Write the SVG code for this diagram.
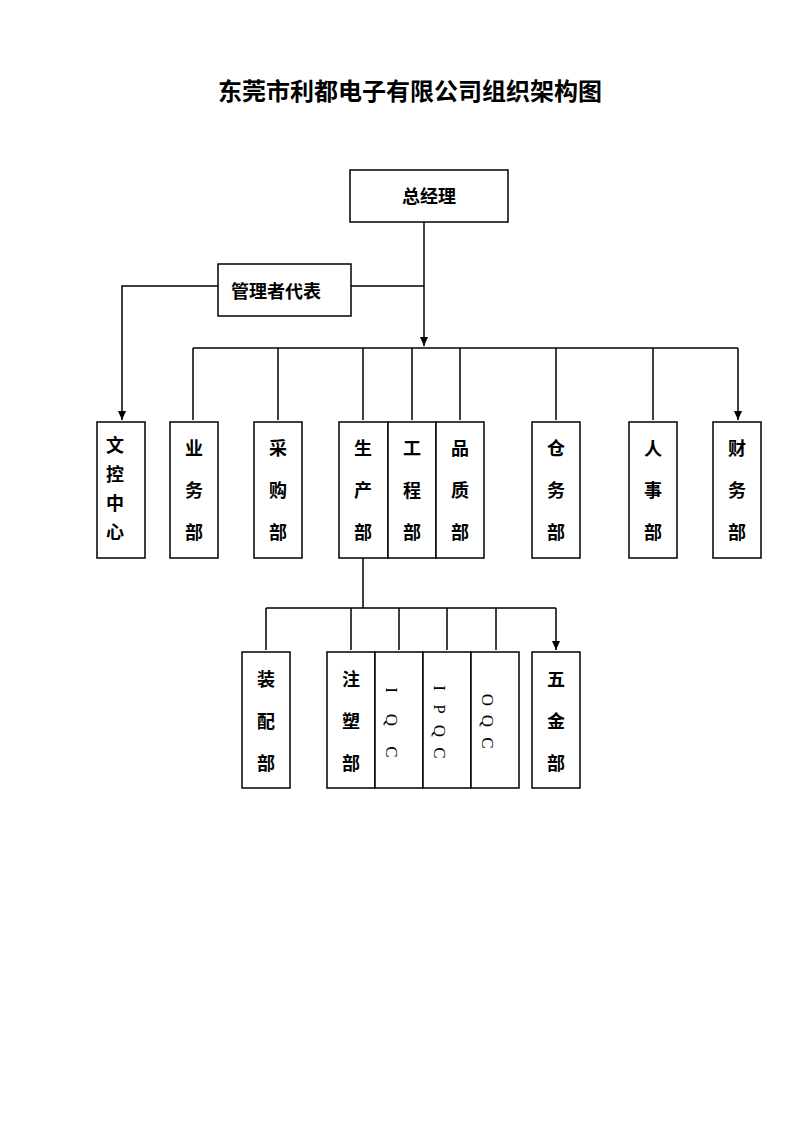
<svg xmlns="http://www.w3.org/2000/svg" width="800" height="1131" viewBox="0 0 800 1131">
<style>
rect{fill:#fff;stroke:#000;stroke-width:1.5}
text{font-family:"Noto Sans CJK SC",sans-serif;font-weight:bold;font-size:18px;text-anchor:middle;fill:#000}
.l{font-family:"Liberation Serif",serif;font-weight:normal;font-size:17px}
#c path{fill:none;stroke:#000;stroke-width:1.5}
</style>
<defs><marker id="a" markerWidth="10" markerHeight="10" refX="9" refY="5" orient="auto" markerUnits="userSpaceOnUse"><path d="M0,1L9,5L0,9z" fill="#000"/></marker></defs>
<rect width="800" height="1131" style="stroke:none"/>
<text x="410" y="100" style="font-size:24px">东莞市利都电子有限公司组织架构图</text>
<g id="c">
<path d="M424,222V346" marker-end="url(#a)"/>
<path d="M351,286H424M218,286H122V420" marker-end="url(#a)"/>
<path d="M193,348H738"/>
<path d="M193,348V420M278,348V420M363,348V420M412,348V420M460,348V420M556,348V420M653,348V420M738,348V420" marker-end="url(#a)"/>
<path d="M363,558V608M266,608H556"/>
<path d="M266,608V650M351,608V650M399,608V650M447,608V650M496,608V650M556,608V650" marker-end="url(#a)"/>
</g>
<g id="n1"><rect x="350" y="170" width="158" height="52"/><text x="429" y="203">总经理</text></g>
<g id="n2"><rect x="218" y="264" width="133" height="52"/><text x="276" y="298">管理者代表</text></g>
<g id="n3"><rect x="97" y="422" width="48" height="136"/><text x="115" y="452">文</text><text x="115" y="481">控</text><text x="115" y="510">中</text><text x="115" y="539">心</text></g>
<g id="n4"><rect x="170" y="422" width="48" height="136"/><text x="194" y="455">业</text><text x="194" y="497">务</text><text x="194" y="539">部</text></g>
<g id="n5"><rect x="254" y="422" width="48" height="136"/><text x="278" y="455">采</text><text x="278" y="497">购</text><text x="278" y="539">部</text></g>
<g id="n6"><rect x="339" y="422" width="49" height="136"/><text x="363" y="455">生</text><text x="363" y="497">产</text><text x="363" y="539">部</text></g>
<g id="n7"><rect x="388" y="422" width="48" height="136"/><text x="412" y="455">工</text><text x="412" y="497">程</text><text x="412" y="539">部</text></g>
<g id="n8"><rect x="436" y="422" width="48" height="136"/><text x="460" y="455">品</text><text x="460" y="497">质</text><text x="460" y="539">部</text></g>
<g id="n9"><rect x="532" y="422" width="48" height="136"/><text x="556" y="455">仓</text><text x="556" y="497">务</text><text x="556" y="539">部</text></g>
<g id="n10"><rect x="629" y="422" width="48" height="136"/><text x="653" y="455">人</text><text x="653" y="497">事</text><text x="653" y="539">部</text></g>
<g id="n11"><rect x="713" y="422" width="48" height="136"/><text x="737" y="455">财</text><text x="737" y="497">务</text><text x="737" y="539">部</text></g>
<g id="n12"><rect x="242" y="652" width="48" height="136"/><text x="266" y="686">装</text><text x="266" y="728">配</text><text x="266" y="770">部</text></g>
<g id="n13"><rect x="327" y="652" width="48" height="136"/><text x="351" y="686">注</text><text x="351" y="728">塑</text><text x="351" y="770">部</text></g>
<g id="n14"><rect x="375" y="652" width="48" height="136"/><text class="l" transform="translate(392,690) rotate(90)" y="6">I</text><text class="l" transform="translate(392,720) rotate(90)" y="6">Q</text><text class="l" transform="translate(392,752) rotate(90)" y="6">C</text></g>
<g id="n15"><rect x="423" y="652" width="48" height="136"/><text class="l" transform="translate(440,688) rotate(90)" y="6">I</text><text class="l" transform="translate(440,709) rotate(90)" y="6">P</text><text class="l" transform="translate(440,731) rotate(90)" y="6">Q</text><text class="l" transform="translate(440,753) rotate(90)" y="6">C</text></g>
<g id="n16"><rect x="471" y="652" width="48" height="136"/><text class="l" transform="translate(488,700) rotate(90)" y="6">O</text><text class="l" transform="translate(488,721) rotate(90)" y="6">Q</text><text class="l" transform="translate(488,743) rotate(90)" y="6">C</text></g>
<g id="n17"><rect x="532" y="652" width="48" height="136"/><text x="556" y="686">五</text><text x="556" y="728">金</text><text x="556" y="770">部</text></g>
</svg>
